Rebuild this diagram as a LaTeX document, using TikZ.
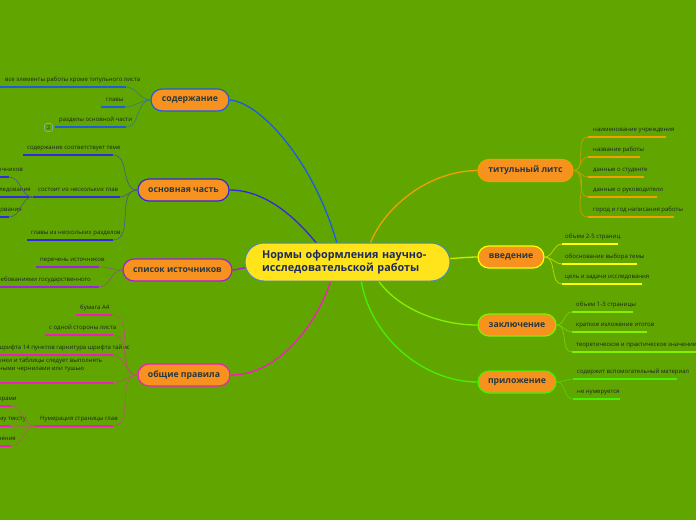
\documentclass[tikz,border=0pt]{standalone}
\usepackage{fontspec}
\setmainfont{Open Sans}
\pgfdeclarelayer{back}
\pgfdeclarelayer{bg}
\pgfsetlayers{back,bg,main}
\definecolor{bgc}{RGB}{97,166,0}
\definecolor{cyel}{RGB}{255,228,28}
\definecolor{cbord}{RGB}{70,140,190}
\definecolor{corange}{RGB}{247,146,30}
\definecolor{ctxt}{RGB}{28,42,92}
\definecolor{btxt}{RGB}{40,56,64}
\definecolor{ltxt}{RGB}{25,35,40}
\definecolor{cS}{RGB}{30,90,230}
\definecolor{cO}{RGB}{50,40,230}
\definecolor{cP}{RGB}{160,30,230}
\definecolor{cG}{RGB}{240,30,190}
\definecolor{cT}{RGB}{240,160,0}
\definecolor{cV}{RGB}{255,255,0}
\definecolor{cVe}{RGB}{205,235,0}
\definecolor{cZ}{RGB}{130,240,0}
\definecolor{cR}{RGB}{70,240,0}
\definecolor{cbox}{RGB}{110,180,170}
\newcommand\ulseg[5]{\coordinate (#1a) at (#2,#4); \coordinate (#1b) at (#3,#4); \draw[ul,draw=#5] (#1a) -- (#1b);}
\begin{document}
\begin{tikzpicture}[x=1pt,y=-1pt,
  central/.style={fill=cyel,draw=cbord,line width=1pt,rounded corners=19pt,minimum height=38pt,text width=171pt,inner xsep=17pt,inner ysep=0pt,align=left,font=\fontsize{10.8}{12.5}\selectfont\bfseries,text=ctxt},
  branch/.style={fill=corange,rounded corners=11pt,minimum height=22pt,line width=1.2pt,font=\fontsize{8.7}{10}\selectfont\bfseries,text=btxt,inner sep=0pt},
  lbl/.style={font=\fontsize{6}{8}\selectfont,text=ltxt,inner sep=0pt},
  mainedge/.style={line width=1.3pt},
  cn/.style={line width=0.7pt},
  ul/.style={line width=1.8pt}]
\useasboundingbox (0,0) rectangle (696,520);
\begin{pgfonlayer}{back}\fill[bgc] (0,0) rectangle (696,520);\end{pgfonlayer}

% central and branches
\node[central] (c) at (347.5,262) {Нормы оформления научно-\\исследовательской работы};
\node[branch,draw=cS,minimum width=78pt] (sod) at (190,100) {содержание};
\node[branch,draw=cO,minimum width=91pt] (osn) at (183.5,190) {основная часть};
\node[branch,draw=cP,minimum width=109pt] (spi) at (177.5,270) {список источников};
\node[branch,draw=cG,minimum width=92pt] (obs) at (184,375) {общие правила};
\node[branch,draw=cT,minimum width=95pt] (tit) at (525.5,170.5) {титульный литс};
\node[branch,draw=cV,minimum width=66pt] (vv) at (511,257) {введение};
\node[branch,draw=cZ,minimum width=78pt] (zak) at (517,325) {заключение};
\node[branch,draw=cR,minimum width=78pt] (pri) at (517,382) {приложение};

\begin{pgfonlayer}{bg}
\draw[mainedge,cS] (sod.east) .. controls (262,102) and (322,170) .. ([xshift=-6pt]c.center);
\draw[mainedge,cO] (osn.east) .. controls (270,190) and (305,225) .. ([xshift=-17pt]c.center);
\draw[mainedge,cP] (spi.east) .. controls (240,270) and (250,262) .. (c.center);
\draw[mainedge,cG] (obs.east) .. controls (290,375) and (330,300) .. ([xshift=-12pt]c.center);
\draw[mainedge,cT] ([xshift=18pt]c.center) .. controls (370,220) and (420,171) .. (tit.west);
\draw[mainedge,cVe] (c.center) .. controls (430,262) and (460,257) .. (vv.west);
\draw[mainedge,cZ] ([xshift=22pt]c.center) .. controls (380,300) and (430,325) .. (zak.west);
\draw[mainedge,cR] ([xshift=12pt]c.center) .. controls (360,330) and (420,382) .. (pri.west);
\end{pgfonlayer}

% --- содержание
\ulseg{s1}{0}{126}{87}{cS}
\node[lbl,anchor=base west] (s1t) at (5,81.5) {все элементы работы кроме титульного листа};
\ulseg{s2}{101}{125}{107}{cS}
\node[lbl,anchor=base west] (s2t) at (106,101.5) {главы};
\ulseg{s3}{55}{126}{127}{cS}
\node[lbl,anchor=base west] (s3t) at (59,121.5) {разделы основной части};
\node[draw=cbox,line width=0.6pt,rounded corners=1.5pt,minimum size=8pt,inner sep=0pt,font=\fontsize{5}{5}\selectfont,text=ltxt] (cnt) at (48.5,127.5) {2};
\foreach \n in {s1,s2,s3} \draw[cn,cS!55!bgc] (\n b) to[out=0,in=180] (sod.west);

% --- основная часть
\ulseg{o1}{23}{113}{155}{cO}
\node[lbl,anchor=base west] (o1t) at (27,149.5) {содержание соответствует теме};
\ulseg{o2}{33}{120}{197}{cO}
\node[lbl,anchor=base west] (o2t) at (38,191.5) {состоит из нескольких глав};
\ulseg{o2x}{0}{9}{177}{cO}
\node[lbl,anchor=base east] (o2xt) at (23,171.5) {обзор источников};
\ulseg{o2y}{0}{32}{197}{cO}
\node[lbl,anchor=base east] (o2yt) at (31,191.5) {методы исследования};
\ulseg{o2z}{0}{9}{217}{cO}
\node[lbl,anchor=base east] (o2zt) at (22,211.5) {результаты исследования};
\foreach \n in {o2x,o2z} \draw[cn,cO!55!bgc] (\n b) to[out=0,in=180] (o2a);
\ulseg{o3}{27}{113}{240}{cO}
\node[lbl,anchor=base west] (o3t) at (31,234.5) {главы из нескольких разделов};
\foreach \n in {o1,o2,o3} \draw[cn,cO!55!bgc] (\n b) to[out=0,in=180] (osn.west);

% --- список источников
\ulseg{p1}{36}{99}{267}{cP}
\node[lbl,anchor=base west] (p1t) at (40,261.5) {перечень источников};
\ulseg{p2}{0}{99}{287}{cP}
\node[lbl,anchor=base east] (p2t) at (91,281.5) {в соответствии с требованиями государственного};
\foreach \n in {p1,p2} \draw[cn,cP!55!bgc] (\n b) to[out=0,in=180] (spi.west);

% --- общие правила
\ulseg{g1}{76}{112}{315}{cG}
\node[lbl,anchor=base west] (g1t) at (80,309.5) {бумага А4};
\ulseg{g2}{45}{113}{335}{cG}
\node[lbl,anchor=base west] (g2t) at (49,329.5) {с одной стороны листа};
\ulseg{g3}{0}{113}{355}{cG}
\node[lbl,anchor=base east] (g3t) at (130,349.5) {размер шрифта 14 пунктов гарнитура шрифта таймс};
\ulseg{g4}{0}{113}{383}{cG}
\node[lbl,anchor=base west,align=left] (g4t) at (-12,370) {рисунки и таблицы следует выполнять\\чёрными чернилами или тушью};
\ulseg{g5}{35}{113}{426}{cG}
\node[lbl,anchor=base west] (g5t) at (40,420.5) {Нумерация страницы глав};
\ulseg{g5x}{0}{11}{406}{cG}
\node[lbl,anchor=base east] (g5xt) at (17,400.5) {арабскими цифрами};
\ulseg{g5y}{0}{11}{426}{cG}
\node[lbl,anchor=base east] (g5yt) at (26,420.5) {сквозная по всему тексту};
\ulseg{g5z}{0}{11}{446}{cG}
\node[lbl,anchor=base east] (g5zt) at (16,440.5) {без исключения};
\foreach \n in {g5x,g5y,g5z} \draw[cn,cG!50!bgc] (\n b) to[out=0,in=180] (g5a);
\foreach \n in {g1,g2,g3,g4,g5} \draw[cn,cG!50!bgc] (\n b) to[out=0,in=180] (obs.west);

% --- титульный литс
\ulseg{t1}{588}{666}{137}{cT}
\node[lbl,anchor=base west] (t1t) at (593,131.5) {наименование учреждения};
\ulseg{t2}{588}{640}{157}{cT}
\node[lbl,anchor=base west] (t2t) at (593,151.5) {название работы};
\ulseg{t3}{588}{644}{177}{cT}
\node[lbl,anchor=base west] (t3t) at (593,171.5) {данные о студенте};
\ulseg{t4}{588}{657}{197}{cT}
\node[lbl,anchor=base west] (t4t) at (593,191.5) {данные о руководители};
\ulseg{t5}{588}{674}{217}{cT}
\node[lbl,anchor=base west] (t5t) at (593,211.5) {город и год написания работы};
\foreach \n in {t1,t2,t3,t4,t5} \draw[cn,cT!65!bgc] (tit.east) to[out=0,in=180] (\n a);

% --- введение
\ulseg{v1}{562}{618}{244}{cV}
\node[lbl,anchor=base west] (v1t) at (565,238.5) {объем 2-5 страниц};
\ulseg{v2}{562}{637}{264}{cV}
\node[lbl,anchor=base west] (v2t) at (565,258.5) {обоснование выбора темы};
\ulseg{v3}{562}{642}{284}{cV}
\node[lbl,anchor=base west] (v3t) at (565,278.5) {цель и задачи исследования};
\foreach \n in {v1,v2,v3} \draw[cn,cV!60!bgc] (vv.east) to[out=0,in=180] (\n a);

% --- заключение
\ulseg{z1}{572}{633}{312}{cZ}
\node[lbl,anchor=base west] (z1t) at (576,306.5) {объем 1-3 страницы};
\ulseg{z2}{572}{647}{332}{cZ}
\node[lbl,anchor=base west] (z2t) at (576,326.5) {краткое изложение итогов};
\ulseg{z3}{572}{696}{352}{cZ}
\node[lbl,anchor=base west] (z3t) at (576,346.5) {теоретическое и практическое значение};
\foreach \n in {z1,z2,z3} \draw[cn,cZ!60!bgc] (zak.east) to[out=0,in=180] (\n a);

% --- приложение
\ulseg{r1}{573}{677}{379}{cR}
\node[lbl,anchor=base west] (r1t) at (577,373.5) {содержит вспомогательный материал};
\ulseg{r2}{573}{620}{399}{cR}
\node[lbl,anchor=base west] (r2t) at (577,393.5) {не нумеруется};
\foreach \n in {r1,r2} \draw[cn,cR!60!bgc] (pri.east) to[out=0,in=180] (\n a);
\end{tikzpicture}
\end{document}
